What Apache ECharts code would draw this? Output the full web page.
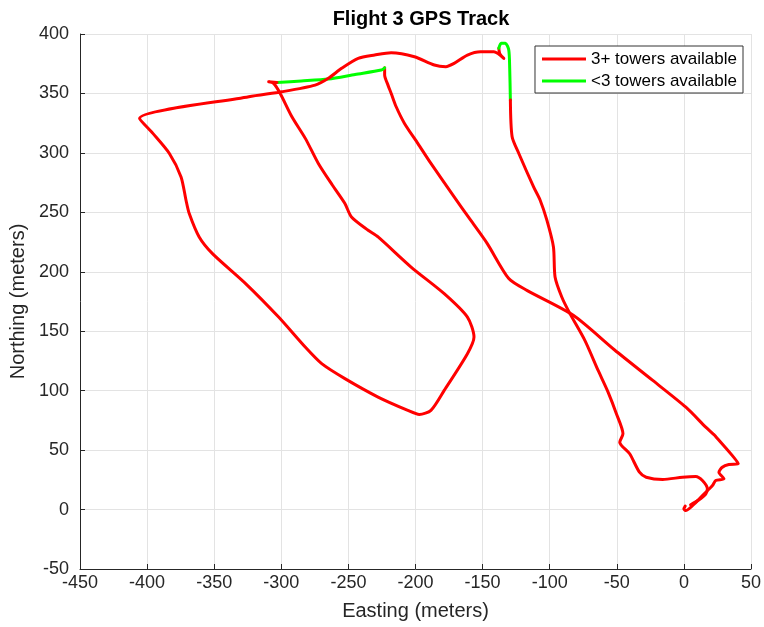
<!DOCTYPE html>
<html>
<head>
<meta charset="utf-8">
<title>Flight 3 GPS Track</title>
<script src="https://cdn.jsdelivr.net/npm/echarts@6/dist/echarts.min.js"></script>
<style>
  html, body { margin: 0; padding: 0; background: #ffffff; }
  #chart { width: 764px; height: 627px; }
</style>
</head>
<body>
<div id="chart"></div>
<script>
// Track legs, [easting, northing] in meters, split by tower availability.
const goodLabel = '3+ towers available';
const weakLabel = '<3 towers available';

// Leg 1: take-off, out to the east tip, then north-west up to the first dropout
const goodLeg1 = [
  [1, 3], [0, 0.5], [1.5, -0.8], [9, 6.1], [16.3, 14.6], [21.3, 20.2], [23.7, 24.4],
  [29.9, 25.9], [26.1, 31.4], [28.6, 35.6], [33.5, 37.9], [40.5, 38.5],
  [23.7, 61.5], [21.7, 63.7], [16.3, 69.3], [1.5, 86.1], [-23.2, 108.6],
  [-51.6, 134.2], [-82.4, 163.4], [-117, 184.4], [-130.5, 194.3], [-146.5, 223.7],
  [-158.9, 243.4], [-171.2, 263], [-188.5, 291.1], [-198.3, 308], [-208.2, 324.8],
  [-214.4, 338.8], [-218.1, 350], [-220.5, 357], [-223, 365.5], [-223, 371.6]
];

// Dropout 1: westward leg along the north edge
const weakLeg1 = [
  [-223, 371.6], [-225.5, 369.7], [-245, 366], [-264.9, 362.1], [-285, 360.5], [-303.2, 359.3]
];

// Leg 2: zig-zag south-east, loop round, back north-west, then east along the top
const goodLeg2 = [
  [-303.2, 359.3], [-309.4, 359.8], [-305.7, 358.5], [-300.8, 350], [-292.1, 330.4],
  [-282, 312], [-272.4, 291.1], [-262, 273], [-252.6, 257.4], [-247.7, 246.1],
  [-235.3, 234.9], [-227.9, 229.3], [-203.3, 204], [-178.6, 181.6], [-161.3, 161.9],
  [-156.4, 145.1], [-161.3, 131.1], [-178.6, 100.2], [-188.5, 83.4], [-197.1, 80],
  [-205.7, 83.4], [-227.9, 94.6], [-252.6, 110.1], [-269.9, 122.7], [-282.2, 136.7],
  [-302, 161.9], [-326.6, 190.1], [-351.3, 215.3], [-361.2, 229.3], [-368.6, 249],
  [-371, 260.2], [-374.7, 279.8], [-383.4, 299.5], [-395.7, 316.4], [-405.6, 329],
  [-324.2, 347.2], [-299.6, 351.4], [-274.8, 357], [-264.9, 362.7], [-255.1, 371.1],
  [-242.7, 379.5], [-230.4, 382.3], [-218.1, 384.3], [-200.8, 380.9], [-186, 373.9],
  [-177.4, 372.5], [-171.2, 375.3], [-161.3, 382.3], [-151.5, 385.1], [-141.6, 385.1],
  [-134.2, 379.5], [-137.2, 383.5], [-137.9, 388]
];

// Dropout 2: the small loop at the north-east corner
const weakLeg2 = [
  [-137.9, 388], [-136.2, 392.2], [-133, 392.2], [-130.5, 386.5], [-129.8, 371.1], [-129.3, 344.4]
];

// Leg 3: southward run back to the landing point
const goodLeg3 = [
  [-129.3, 344.4], [-128, 313.5], [-123, 299.5], [-112, 271.4], [-107.1, 260.2],
  [-102.1, 243.4], [-97.2, 220.9], [-96, 195.6], [-91, 178.8], [-84.9, 164.8],
  [-73.8, 142.3], [-63.9, 117], [-56.5, 98.8], [-50.3, 80.6], [-45.4, 63.7],
  [-47.8, 56.7], [-40.4, 46.9], [-33.1, 31.4], [-28.1, 27.2], [-15.8, 25.3],
  [-1, 27.2], [8.8, 27.8], [13.8, 24.4], [17.5, 17.4], [16.3, 13.1], [11, 8], [5, 4]
];

const xTicks = { min: -450, max: 50, step: 50 };
const yTicks = { min: -50, max: 400, step: 50 };

const FONT = '"Liberation Sans", Arial, Helvetica, sans-serif';
const RED = '#ff0000';
const GREEN = '#00ff00';

function leg(name, data, color) {
  return {
    name: name,
    type: 'line',
    data: data,
    showSymbol: false,
    symbol: 'none',
    smooth: 0.25,
    animation: false,
    lineStyle: { color: color, width: 3, join: 'round', cap: 'round' },
    itemStyle: { color: color }
  };
}

const chart = echarts.init(document.getElementById('chart'), null, { renderer: 'canvas' });

chart.setOption({
  backgroundColor: '#ffffff',
  animation: false,
  title: {
    text: 'Flight 3 GPS Track',
    left: 416, top: 4,
    textAlign: 'center',
    textStyle: { fontFamily: FONT, fontSize: 20, fontWeight: 'bold', color: '#000' }
  },
  legend: {
    orient: 'vertical',
    right: 21, top: 46,
    padding: [4, 6, 3, 7],
    itemGap: 4,
    itemWidth: 44, itemHeight: 3,
    itemTextGap: 7,
    icon: 'rect',
    borderColor: '#333333', borderWidth: 1,
    backgroundColor: '#ffffff',
    data: [goodLabel, weakLabel],
    textStyle: { fontFamily: FONT, fontSize: 17, color: '#000', lineHeight: 18 }
  },
  grid: { left: 80, right: 9, top: 34, bottom: 58, containLabel: false },
  xAxis: {
    type: 'value',
    min: xTicks.min, max: xTicks.max, interval: xTicks.step,
    name: 'Easting (meters)',
    nameLocation: 'middle', nameGap: 32,
    nameTextStyle: { fontFamily: FONT, fontSize: 20, color: '#262626' },
    axisLine: { onZero: false, lineStyle: { color: '#262626', width: 1 } },
    axisTick: { inside: true, length: 5, lineStyle: { color: '#262626' } },
    axisLabel: { fontFamily: FONT, fontSize: 18, color: '#262626', margin: 5 },
    splitLine: { show: true, lineStyle: { color: '#e3e3e3', width: 1 } }
  },
  yAxis: {
    type: 'value',
    min: yTicks.min, max: yTicks.max, interval: yTicks.step,
    name: 'Northing (meters)',
    nameLocation: 'middle', nameGap: 44, nameRotate: 90,
    nameTextStyle: { fontFamily: FONT, fontSize: 20, color: '#262626' },
    axisLine: { show: true, onZero: false, lineStyle: { color: '#262626', width: 1 } },
    axisTick: { show: true, inside: true, length: 5, lineStyle: { color: '#262626' } },
    axisLabel: { fontFamily: FONT, fontSize: 18, color: '#262626', margin: 11 },
    splitLine: { show: true, lineStyle: { color: '#e3e3e3', width: 1 } }
  },
  series: [
    leg(goodLabel, goodLeg1, RED),
    leg(weakLabel, weakLeg1, GREEN),
    leg(goodLabel, goodLeg2, RED),
    leg(weakLabel, weakLeg2, GREEN),
    leg(goodLabel, goodLeg3, RED)
  ]
});
</script>
</body>
</html>
